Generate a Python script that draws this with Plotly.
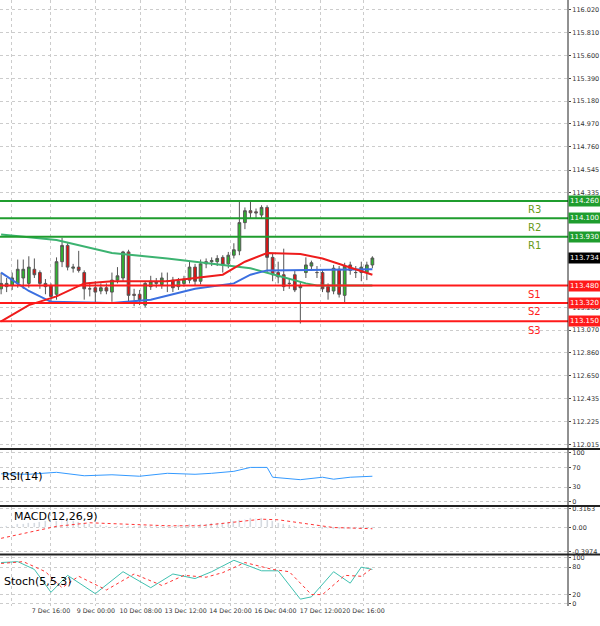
import plotly.graph_objects as go

opens  = [113.45,113.47,113.48,113.50,113.55,113.50,113.63,113.60,113.50,113.48,113.40,113.70,113.85,113.64,113.65,113.60,113.45,113.46,113.43,113.46,
          113.42,113.53,113.55,113.79,113.40,113.40,113.30,113.47,113.50,113.49,113.52,113.53,113.47,113.50,113.53,113.65,113.52,113.68,113.70,113.70,
          113.74,113.68,113.76,113.80,114.06,114.17,114.16,114.13,114.20,113.74,113.60,113.58,113.50,113.58,113.46,113.60,113.66,113.60,113.60,113.47,
          113.43,113.63,113.39,113.67,113.60,113.60,113.60,113.67]
highs  = [113.60,113.55,113.60,113.72,113.72,113.75,113.73,113.62,113.54,113.50,113.74,113.92,113.87,113.68,113.80,113.62,113.50,113.52,113.50,113.50,
          113.60,113.65,113.80,113.81,113.45,113.44,113.52,113.57,113.55,113.60,113.60,113.56,113.55,113.57,113.70,113.68,113.72,113.73,113.74,113.76,
          113.76,113.79,113.87,114.26,114.20,114.25,114.19,114.22,114.22,113.78,113.70,113.82,113.55,113.62,113.52,113.74,113.71,113.66,113.63,113.50,
          113.67,113.66,113.69,113.70,113.66,113.70,113.70,113.75]
lows   = [113.40,113.42,113.44,113.46,113.45,113.46,113.55,113.45,113.40,113.33,113.35,113.65,113.62,113.60,113.60,113.35,113.38,113.32,113.40,113.40,
          113.33,113.50,113.52,113.33,113.29,113.30,113.28,113.44,113.46,113.45,113.42,113.42,113.44,113.47,113.50,113.48,113.49,113.64,113.66,113.66,
          113.60,113.64,113.73,113.76,114.00,114.10,114.10,114.10,113.60,113.52,113.50,113.43,113.45,113.42,113.13,113.55,113.62,113.55,113.42,113.35,
          113.40,113.37,113.32,113.58,113.55,113.52,113.53,113.64]
closes = [113.50,113.50,113.55,113.63,113.63,113.65,113.58,113.50,113.47,113.38,113.70,113.85,113.65,113.65,113.62,113.45,113.45,113.42,113.46,113.43,
          113.53,113.57,113.79,113.39,113.39,113.35,113.50,113.52,113.51,113.55,113.52,113.46,113.52,113.54,113.65,113.52,113.68,113.70,113.71,113.73,
          113.67,113.76,113.81,114.06,114.17,114.15,114.15,114.20,113.74,113.58,113.56,113.47,113.50,113.44,113.48,113.67,113.69,113.60,113.45,113.42,
          113.64,113.40,113.66,113.62,113.60,113.65,113.67,113.734]
bars = list(range(len(closes)))

ma_slow_x = [0, 10, 20, 30, 40, 45, 50, 55, 57, 67]
ma_slow = [113.95, 113.90, 113.78, 113.73, 113.67, 113.64, 113.57, 113.50, 113.48, 113.48]
ma_mid_x = [0, 5, 9, 20, 27, 35, 42, 45, 48, 67]
ma_mid = [113.60, 113.43, 113.33, 113.32, 113.35, 113.45, 113.50, 113.58, 113.62, 113.63]
ma_fast_x = [0, 5, 10, 15, 20, 30, 40, 44, 48, 54, 58, 63, 67]
ma_fast = [113.15, 113.30, 113.38, 113.50, 113.52, 113.52, 113.58, 113.70, 113.78, 113.77, 113.73, 113.65, 113.58]

levels = [114.26, 114.10, 113.93, 113.48, 113.32, 113.15]
level_names = ["R3", "R2", "R1", "S1", "S2", "S3"]

rsi_x = [0, 5, 10, 15, 20, 25, 30, 35, 38, 42, 45, 48, 49, 52, 54, 58, 60, 63, 67]
rsi = [57, 56, 60, 53, 55, 52, 58, 56, 58, 62, 70, 70, 50, 47, 45, 50, 46, 50, 52]

macd_x = [0, 5, 10, 16, 22, 30, 36, 40, 44, 47, 50, 53, 56, 60, 64, 67]
macd_sig = [-0.18, -0.08, 0.02, 0.08, 0.06, 0.03, 0.03, 0.07, 0.11, 0.14, 0.13, 0.09, 0.05, 0.00, -0.01, -0.02]
hist_x = list(range(0, 68))
hist = [0.0, 0.02, 0.03, 0.05, 0.06, 0.07, 0.08, 0.09, 0.1, 0.09, 0.1, 0.12, 0.11, 0.1, 0.09, 0.08, 0.06, 0.05, 0.04, 0.03,
        0.03, 0.03, 0.04, 0.03, 0.02, 0.02, 0.02, 0.02, 0.02, 0.03, 0.03, 0.03, 0.04, 0.04, 0.05, 0.05, 0.06, 0.06, 0.07, 0.08,
        0.08, 0.09, 0.1, 0.12, 0.14, 0.15, 0.15, 0.15, 0.12, 0.1, 0.08, 0.06, 0.04, 0.02, 0.01, 0.0, 0.0, -0.01, -0.02, -0.02,
        -0.02, -0.03, -0.02, -0.02, -0.02, -0.02, -0.01, -0.01]

st_x = [0, 3, 6, 9, 12, 17, 22, 27, 31, 35, 38, 42, 47, 50, 54, 56, 60, 63, 65, 67]
st_main = [90, 92, 75, 25, 62, 22, 70, 35, 65, 55, 70, 95, 72, 72, 10, 15, 70, 45, 80, 75]
st_sig_x = [0, 4, 8, 11, 14, 19, 24, 29, 33, 37, 40, 44, 49, 52, 56, 58, 62, 65, 67]
st_sig = [88, 92, 70, 35, 60, 30, 65, 40, 62, 58, 68, 90, 75, 70, 20, 20, 62, 60, 78]

tick_pos = [1.8, 9, 17.1, 25.2, 33.3, 41.4, 49.5, 57.7, 65.4]
tick_txt = ["7 Dec 08:00", "7 Dec 16:00", "9 Dec 00:00", "10 Dec 08:00", "13 Dec 12:00", "14 Dec 20:00",
            "16 Dec 04:00", "17 Dec 12:00", "20 Dec 16:00"]
price_ticks = [116.020, 115.810, 115.600, 115.390, 115.180, 114.970, 114.760, 114.545, 114.335,
               113.280, 113.070, 112.860, 112.650, 112.435, 112.225, 112.015]

GREEN = "#1f9d2e"
RED = "#ff1a1a"
fig = go.Figure()
fig.add_trace(go.Scatter(x=ma_slow_x, y=ma_slow, mode="lines", line=dict(color="#3cb371", width=2), yaxis="y"))
fig.add_trace(go.Scatter(x=ma_mid_x, y=ma_mid, mode="lines", line=dict(color="#3b6fe0", width=2), yaxis="y"))
fig.add_trace(go.Scatter(x=ma_fast_x, y=ma_fast, mode="lines", line=dict(color="#ee1c1c", width=2), yaxis="y"))
fig.add_trace(go.Candlestick(x=bars, open=opens, high=highs, low=lows, close=closes, whiskerwidth=0,
                             increasing=dict(line=dict(color="#555", width=1), fillcolor="#2eb82e"),
                             decreasing=dict(line=dict(color="#555", width=1), fillcolor="#e01010"),
                             yaxis="y"))
fig.add_trace(go.Scatter(x=rsi_x, y=rsi, mode="lines", line=dict(color="#3399ff", width=1), yaxis="y2", xaxis="x2"))
fig.add_trace(go.Bar(x=hist_x, y=hist, marker_color="#bbbbbb", width=0.15, yaxis="y3", xaxis="x3"))
fig.add_trace(go.Scatter(x=macd_x, y=macd_sig, mode="lines", line=dict(color="#ff3333", width=1, dash="dot"), yaxis="y3", xaxis="x3"))
fig.add_trace(go.Scatter(x=st_x, y=st_main, mode="lines", line=dict(color="#40c0b0", width=1), yaxis="y4", xaxis="x4"))
fig.add_trace(go.Scatter(x=st_sig_x, y=st_sig, mode="lines", line=dict(color="#ff3333", width=1, dash="dot"), yaxis="y4", xaxis="x4"))

shapes, annos = [], []
for lv, nm in zip(levels, level_names):
    c = GREEN if nm[0] == "R" else RED
    shapes.append(dict(type="line", xref="paper", x0=0, x1=1, yref="y", y0=lv, y1=lv, line=dict(color=c, width=2)))
    annos.append(dict(xref="paper", x=1.0, xanchor="left", yref="y", y=lv, text=f"{lv:.3f}", showarrow=False,
                      font=dict(size=7, color="white"), bgcolor=c, borderpad=1))
    annos.append(dict(x=96.3, y=lv, yref="y", yshift=-9, text=nm, showarrow=False,
                      font=dict(size=10, color="#6a9a1a" if nm[0] == "R" else RED)))
annos.append(dict(xref="paper", x=1.0, xanchor="left", yref="y", y=closes[-1], text=f"{closes[-1]:.3f}",
                  showarrow=False, font=dict(size=7, color="white"), bgcolor="black", borderpad=1))
annos.append(dict(xref="paper", x=0.0, xanchor="left", yref="paper", y=0.200, text="RSI(14)", showarrow=False, font=dict(size=11, color="black")))
annos.append(dict(xref="paper", x=0.022, xanchor="left", yref="paper", y=0.133, text="MACD(12,26,9)", showarrow=False, font=dict(size=11, color="black")))
annos.append(dict(xref="paper", x=0.004, xanchor="left", yref="paper", y=0.027, text="Stoch(5,5,3)", showarrow=False, font=dict(size=11, color="black")))
for yp in [0.259, 0.165, 0.085]:
    shapes.append(dict(type="line", xref="paper", x0=0, x1=1.06, yref="paper", y0=yp, y1=yp, line=dict(color="#222", width=2)))
shapes.append(dict(type="line", xref="paper", x0=1, x1=1, yref="paper", y0=0, y1=1, line=dict(color="#222", width=1)))

xcommon = dict(range=[-0.2, 102.3], showgrid=True, gridcolor="#cccccc", griddash="dot", tickvals=tick_pos,
               zeroline=False, showline=False, rangeslider=dict(visible=False), automargin=False)
ycommon = dict(side="right", showgrid=True, gridcolor="#cccccc", griddash="dot", zeroline=False, automargin=False,
               tickfont=dict(size=6.5, color="#333"), ticks="outside", ticklen=2)
fig.update_layout(
    width=600, height=626, showlegend=False, plot_bgcolor="white", paper_bgcolor="white",
    margin=dict(l=0, r=32, t=0, b=20), font=dict(family="DejaVu Sans"), bargap=0,
    xaxis=dict(xcommon, showticklabels=False, anchor="y"),
    xaxis2=dict(xcommon, showticklabels=False, anchor="y2", matches="x"),
    xaxis3=dict(xcommon, showticklabels=False, anchor="y3", matches="x"),
    xaxis4=dict(xcommon, ticktext=tick_txt, tickangle=0, tickfont=dict(size=6.3, color="#333"), anchor="y4", matches="x"),
    yaxis=dict(ycommon, domain=[0.262, 1], range=[111.99, 116.112], tickvals=price_ticks, tickformat=".3f"),
    yaxis2=dict(ycommon, domain=[0.168, 0.257], range=[-5, 105], tickvals=[0, 30, 70, 100]),
    yaxis3=dict(ycommon, domain=[0.088, 0.163], range=[-0.42, 0.34], tickvals=[-0.3974, 0, 0.3163],
                ticktext=["-0.3974", "0.00", "0.3163"]),
    yaxis4=dict(ycommon, domain=[0, 0.083], range=[-5, 105], tickvals=[0, 20, 80, 100]),
    shapes=shapes, annotations=annos,
)
fig.write_html("out.html", config={"displayModeBar": False}, post_script="document.body.style.margin='0';")
